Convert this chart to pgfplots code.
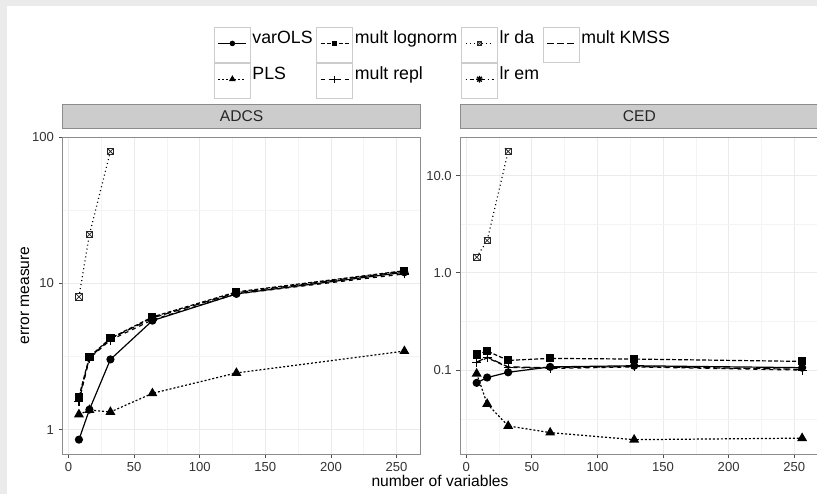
\documentclass[border=0pt]{standalone}
\usepackage{fontspec}
\setmainfont{Liberation Sans}
\usepackage{pgfplots}
\pgfplotsset{compat=1.18}

\definecolor{bandgray}{HTML}{EBEBEB}
\definecolor{gridgray}{HTML}{EBEBEB}
\definecolor{stripfill}{HTML}{CCCCCC}
\definecolor{framegray}{HTML}{8C8C8C}

% R shape 7 (boxed x) and shape 8 (asterisk)
\pgfdeclareplotmark{boxx}{%
  \pgfpathrectangle{\pgfqpoint{-\pgfplotmarksize}{-\pgfplotmarksize}}{\pgfqpoint{2\pgfplotmarksize}{2\pgfplotmarksize}}%
  \pgfusepathqfillstroke
  \pgfpathmoveto{\pgfqpoint{-\pgfplotmarksize}{-\pgfplotmarksize}}%
  \pgfpathlineto{\pgfqpoint{\pgfplotmarksize}{\pgfplotmarksize}}%
  \pgfpathmoveto{\pgfqpoint{-\pgfplotmarksize}{\pgfplotmarksize}}%
  \pgfpathlineto{\pgfqpoint{\pgfplotmarksize}{-\pgfplotmarksize}}%
  \pgfusepathqstroke
}
\pgfdeclareplotmark{star8}{%
  \pgfpathmoveto{\pgfqpoint{-\pgfplotmarksize}{0pt}}\pgfpathlineto{\pgfqpoint{\pgfplotmarksize}{0pt}}%
  \pgfpathmoveto{\pgfqpoint{0pt}{-\pgfplotmarksize}}\pgfpathlineto{\pgfqpoint{0pt}{\pgfplotmarksize}}%
  \pgfpathmoveto{\pgfqpoint{-.707\pgfplotmarksize}{-.707\pgfplotmarksize}}\pgfpathlineto{\pgfqpoint{.707\pgfplotmarksize}{.707\pgfplotmarksize}}%
  \pgfpathmoveto{\pgfqpoint{-.707\pgfplotmarksize}{.707\pgfplotmarksize}}\pgfpathlineto{\pgfqpoint{.707\pgfplotmarksize}{-.707\pgfplotmarksize}}%
  \pgfusepathqstroke
}

\tikzset{
  s varols/.style={black, solid, line width=0.9pt, mark=*, mark size=2.6pt, mark options={solid}},
  s pls/.style={black, line width=0.9pt, dash pattern=on 1.5pt off 1.5pt, mark=triangle*, mark size=3.4pt, mark options={solid}},
  s lognorm/.style={black, line width=0.9pt, dash pattern=on 3pt off 1.5pt, mark=square*, mark size=2.6pt, mark options={solid}},
  s repl/.style={black, line width=0.9pt, dash pattern=on 3pt off 3pt, mark=+, mark size=3.4pt, mark options={solid}},
  s lrda/.style={black, line width=0.9pt, dash pattern=on 0.75pt off 2.25pt, mark=boxx, mark size=2.4pt, mark options={solid, line width=0.55pt, draw=black!85, fill=white}},
  s lrem/.style={black, line width=0.9pt, dash pattern=on 0.75pt off 2.25pt on 3pt off 2.25pt, mark=star8, mark size=3pt, mark options={solid}},
  s kmss/.style={black, line width=0.9pt, dash pattern=on 5.25pt off 2.25pt},
}

\begin{document}
\begin{tikzpicture}
\useasboundingbox (0,0) rectangle (612.75pt,-370.5pt);
\fill[bandgray] (0,0) rectangle (5.25pt,-370.5pt);
\fill[bandgray] (0,0) rectangle (612.75pt,-4.3pt);

\begin{axis}[at={(47pt,-340.5pt)}, anchor=south west,
  scale only axis, width=268.5pt, height=237.75pt,
  ymode=log, xmin=-4.4, xmax=268.4,
  xtick={0,50,100,150,200,250}, xticklabels={0,50,100,150,200,250},
  minor xtick={25,75,125,175,225},
  grid=both,
  major grid style={draw=gridgray, line width=0.6pt},
  minor grid style={draw=gridgray!55, line width=0.35pt},
  axis line style={draw=framegray, line width=0.75pt},
  tick align=outside, major tick length=3pt, minor tick length=0pt,
  tick pos=left,
  major tick style={draw=black!70, line width=0.6pt},
  ticklabel style={font=\fontsize{9.8pt}{11pt}\selectfont, text=black!80},
  title style={at={(0.5,1)}, anchor=south, yshift=0pt, fill=stripfill, draw=framegray,
    line width=0.75pt, minimum width=268.5pt, minimum height=18.3pt, inner sep=0pt,
    font=\fontsize{11.7pt}{14pt}\selectfont, text=black!85},
  title={ADCS},
  ymin=0.681, ymax=100.1,
  ytick={1,10,100}, yticklabels={1,10,100},
  minor ytick={3.1623,31.623},
  legend columns=4,
  legend cell align=left,
  legend style={at={(0.4226,1.346)}, anchor=north west, draw=none, fill=none,
    inner sep=0pt, outer sep=0pt, row sep=0pt,
    nodes={inner sep=1.3pt, anchor=base west, font=\fontsize{13.3pt}{15pt}\selectfont},
    /tikz/every even column/.append style={column sep=1.5pt}},
  legend image code/.code={
    \draw[solid, draw=black!20, fill=white, line width=0.6pt] (0pt,-14.4pt) rectangle (27pt,11.8pt);
    \draw[mark repeat=2, mark phase=2] plot coordinates {(3pt,0pt) (13.5pt,0pt) (24pt,0pt)};
  },
]
\addplot[s varols, forget plot] coordinates {(8,0.854) (16,1.37) (32,3.02) (64,5.56) (128,8.47) (256,11.9)};
\addplot[s pls, forget plot] coordinates {(8,1.27) (16,1.36) (32,1.32) (64,1.77) (128,2.44) (256,3.44)};
\addplot[s lognorm, forget plot] coordinates {(8,1.68) (16,3.15) (32,4.21) (64,5.89) (128,8.74) (256,12.2)};
\addplot[s repl, forget plot] coordinates {(8,1.56) (16,3.07) (32,4.10) (64,5.62) (128,8.47) (256,11.6)};
\addplot[s lrda, forget plot] coordinates {(8,8.08) (16,21.6) (32,79.8)};
\addplot[s kmss, no marks, forget plot] coordinates {(8,1.62) (16,3.10) (32,4.18) (64,5.80) (128,8.62) (256,12.1)};

\addlegendimage{s varols, mark size=1.6pt}\addlegendentry{varOLS}
\addlegendimage{s lognorm, mark size=1.6pt}\addlegendentry{mult lognorm}
\addlegendimage{s lrda, mark size=1.6pt}\addlegendentry{lr da}
\addlegendimage{s kmss, no marks}\addlegendentry{mult KMSS}
\addlegendimage{s pls, mark size=2.1pt}\addlegendentry{PLS}
\addlegendimage{s repl, mark size=2.5pt}\addlegendentry{mult repl}
\addlegendimage{s lrem, mark size=2.5pt}\addlegendentry{lr em}
\end{axis}

\begin{axis}[at={(345.3pt,-340.5pt)}, anchor=south west,
  scale only axis, width=268.5pt, height=237.75pt,
  ymode=log, xmin=-4.4, xmax=268.4,
  xtick={0,50,100,150,200,250}, xticklabels={0,50,100,150,200,250},
  minor xtick={25,75,125,175,225},
  grid=both,
  major grid style={draw=gridgray, line width=0.6pt},
  minor grid style={draw=gridgray!55, line width=0.35pt},
  axis line style={draw=framegray, line width=0.75pt},
  tick align=outside, major tick length=3pt, minor tick length=0pt,
  tick pos=left,
  major tick style={draw=black!70, line width=0.6pt},
  ticklabel style={font=\fontsize{9.8pt}{11pt}\selectfont, text=black!80},
  title style={at={(0.5,1)}, anchor=south, yshift=0pt, fill=stripfill, draw=framegray,
    line width=0.75pt, minimum width=268.5pt, minimum height=18.3pt, inner sep=0pt,
    font=\fontsize{11.7pt}{14pt}\selectfont, text=black!85},
  title={CED},
  ymin=0.01374, ymax=24.9,
  ytick={0.1,1,10}, yticklabels={0.1,1.0,10.0},
  minor ytick={0.031623,0.31623,3.1623},
]
\addplot[s varols] coordinates {(8,0.074) (16,0.084) (32,0.095) (64,0.108) (128,0.111) (256,0.106)};
\addplot[s pls] coordinates {(8,0.092) (16,0.045) (32,0.0267) (64,0.0228) (128,0.0193) (256,0.0200)};
\addplot[s lognorm] coordinates {(8,0.145) (16,0.157) (32,0.126) (64,0.132) (128,0.130) (256,0.123)};
\addplot[s repl] coordinates {(8,0.119) (16,0.134) (32,0.107) (64,0.104) (128,0.108) (256,0.100)};
\addplot[s lrda] coordinates {(8,1.45) (16,2.15) (32,17.7)};
\addplot[s kmss, no marks] coordinates {(8,0.121) (16,0.136) (32,0.108) (64,0.106) (128,0.109) (256,0.102)};
\end{axis}

\node[rotate=90, font=\fontsize{11.7pt}{14pt}\selectfont] at (18.75pt,-221.6pt) {error measure};
\node[font=\fontsize{11.7pt}{14pt}\selectfont] at (330pt,-360.5pt) {number of variables};
\end{tikzpicture}
\end{document}
